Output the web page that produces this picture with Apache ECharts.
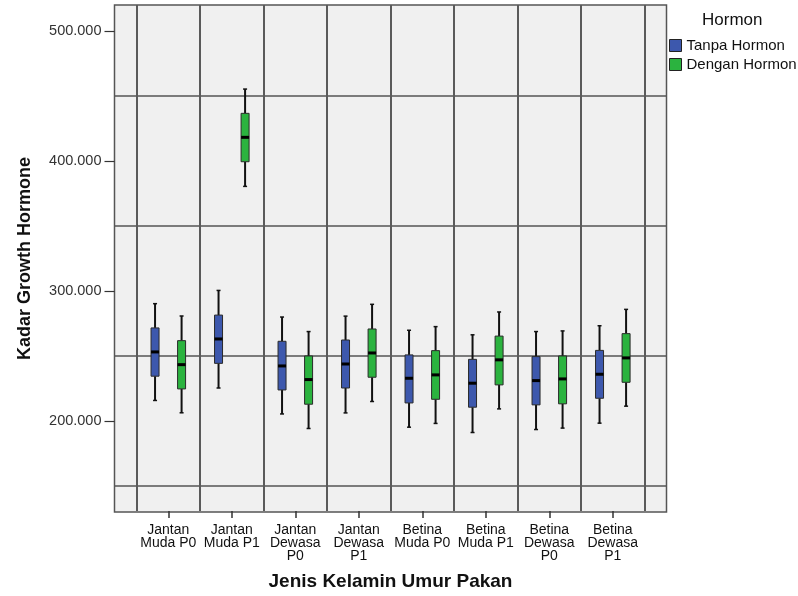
<!DOCTYPE html>
<html><head><meta charset="utf-8">
<script src="https://cdn.jsdelivr.net/npm/echarts@6/dist/echarts.min.js"></script>
<style>html,body{margin:0;padding:0;background:#fff}#c{width:798px;height:596px}</style>
</head><body><div id="c"></div>
<script>
const categories = ['Jantan\nMuda P0', 'Jantan\nMuda P1', 'Jantan\nDewasa\nP0', 'Jantan\nDewasa\nP1',
                    'Betina\nMuda P0', 'Betina\nMuda P1', 'Betina\nDewasa\nP0', 'Betina\nDewasa\nP1'];
const seriesNames = ['Tanpa Hormon', 'Dengan Hormon'];
// each entry: [lower whisker, Q1, median, Q3, upper whisker]
const tanpaHormon = [
  [215.2, 233.9, 252.6, 271.1, 289.8],
  [224.8, 243.8, 262.6, 281.0, 300.0],
  [204.8, 223.3, 241.8, 260.8, 279.5],
  [205.6, 224.8, 243.3, 261.8, 280.2],
  [194.6, 213.3, 232.3, 250.3, 269.3],
  [190.5, 210.0, 228.5, 246.9, 265.8],
  [192.8, 211.8, 230.5, 249.0, 268.3],
  [197.7, 216.9, 235.4, 253.8, 272.8]
];
const denganHormon = [
  [205.7, 224.1, 242.8, 261.3, 280.3],
  [380.2, 399.2, 418.0, 436.5, 455.2],
  [193.6, 212.3, 231.3, 249.5, 268.3],
  [214.4, 233.1, 251.8, 270.3, 289.3],
  [197.5, 216.1, 234.9, 253.6, 272.1],
  [208.7, 227.2, 246.5, 264.8, 283.4],
  [193.9, 212.6, 231.8, 249.5, 268.8],
  [210.8, 229.2, 248.0, 266.7, 285.4]
];
const yTickLabels = [200, 300, 400, 500];
const yGridValues = [150, 250, 350, 450];
const yMin = 130, yMax = 520;

const colors = ['#3d58ad', '#2bb33f'];
const offsets = [-0.208, 0.21];

function makeRender(offsetFrac, color) {
  return function (params, api) {
    const cat = api.value(0);
    const band = api.size([1, 0])[0];
    const base = api.coord([cat, api.value(1)]);
    const x = base[0] + band * offsetFrac;
    const yLow = base[1];
    const yQ1 = api.coord([cat, api.value(2)])[1];
    const yMed = api.coord([cat, api.value(3)])[1];
    const yQ3 = api.coord([cat, api.value(4)])[1];
    const yHigh = api.coord([cat, api.value(5)])[1];
    const bw = 8, cw = 4;
    const ws = { stroke: '#111', lineWidth: 2 };
    return {
      type: 'group',
      children: [
        { type: 'line', shape: { x1: x, y1: yHigh, x2: x, y2: yQ3 }, style: ws },
        { type: 'line', shape: { x1: x, y1: yQ1, x2: x, y2: yLow }, style: ws },
        { type: 'line', shape: { x1: x - cw / 2, y1: yHigh, x2: x + cw / 2, y2: yHigh }, style: { stroke: '#111', lineWidth: 1.5 } },
        { type: 'line', shape: { x1: x - cw / 2, y1: yLow, x2: x + cw / 2, y2: yLow }, style: { stroke: '#111', lineWidth: 1.5 } },
        { type: 'rect', shape: { x: x - bw / 2, y: yQ3, width: bw, height: yQ1 - yQ3 }, style: { fill: color, stroke: '#2a2a2a', lineWidth: 1 } },
        { type: 'line', shape: { x1: x - bw / 2, y1: yMed, x2: x + bw / 2, y2: yMed }, style: { stroke: '#000', lineWidth: 3 } }
      ]
    };
  };
}

function toData(arr) { return arr.map((d, i) => [i].concat(d)); }
const allSeries = [tanpaHormon, denganHormon].map((arr, k) => ({
  name: seriesNames[k],
  type: 'custom',
  xAxisIndex: 1,
  yAxisIndex: 2,
  itemStyle: { color: colors[k] },
  encode: { x: 0, y: [1, 2, 3, 4, 5] },
  renderItem: makeRender(offsets[k], colors[k]),
  data: toData(arr),
  z: 5
}));

const chart = echarts.init(document.getElementById('c'), null, { renderer: 'canvas' });
chart.setOption({
  animation: false,
  backgroundColor: '#ffffff',
  textStyle: { fontFamily: '"Liberation Sans", Arial, sans-serif' },
  title: {
    text: 'Hormon', left: 702, top: 12, padding: 0,
    textStyle: { fontSize: 17, fontWeight: 'normal', color: '#111', fontFamily: '"Liberation Sans", Arial, sans-serif' }
  },
  legend: {
    orient: 'vertical', left: 669, top: 38, padding: 0,
    itemWidth: 12, itemHeight: 12, itemGap: 4, icon: 'rect',
    itemStyle: { borderColor: '#222', borderWidth: 1 },
    textStyle: { fontSize: 15, color: '#111' },
    data: seriesNames
  },
  grid: [
    { left: 114.5, top: 5, width: 552, height: 507, show: true, backgroundColor: '#f0f0f0', borderColor: '#555', borderWidth: 1.5 },
    { left: 136.5, top: 5, width: 508, height: 507 }
  ],
  xAxis: [
    { gridIndex: 0, type: 'value', min: 0, max: 1, show: false },
    {
      gridIndex: 1, type: 'category', data: categories,
      axisLine: { show: false },
      axisTick: { show: true, interval: 0, alignWithLabel: true, length: 7, lineStyle: { color: '#333', width: 1.5 } },
      axisLabel: { interval: 0, fontSize: 14, lineHeight: 13, color: '#111', margin: 13 },
      splitLine: { show: true, interval: 0, lineStyle: { color: '#5a5a5a', width: 2 } },
      name: 'Jenis Kelamin Umur Pakan', nameLocation: 'middle', nameGap: 61,
      nameTextStyle: { fontSize: 19, fontWeight: 'bold', color: '#111' }
    }
  ],
  yAxis: [
    {
      gridIndex: 0, type: 'value', min: yMin, max: yMax,
      axisLine: { show: false },
      axisTick: { show: true, customValues: yTickLabels, length: 10, lineStyle: { color: '#333', width: 1.2 } },
      axisLabel: { customValues: yTickLabels, formatter: v => v.toFixed(3), fontSize: 14.5, color: '#333', margin: 13 },
      splitLine: { show: false },
      name: 'Kadar Growth Hormone', nameLocation: 'middle', nameGap: 80,
      nameTextStyle: { fontSize: 18, fontWeight: 'bold', color: '#111' }
    },
    {
      gridIndex: 0, type: 'value', min: yMin, max: yMax,
      axisLine: { show: false },
      axisTick: { show: false, customValues: yGridValues },
      axisLabel: { show: false, customValues: yGridValues },
      splitLine: { show: true, lineStyle: { color: '#555', width: 1.5 } }
    },
    { gridIndex: 1, type: 'value', min: yMin, max: yMax, show: false }
  ],
  series: allSeries
});
</script></body></html>
